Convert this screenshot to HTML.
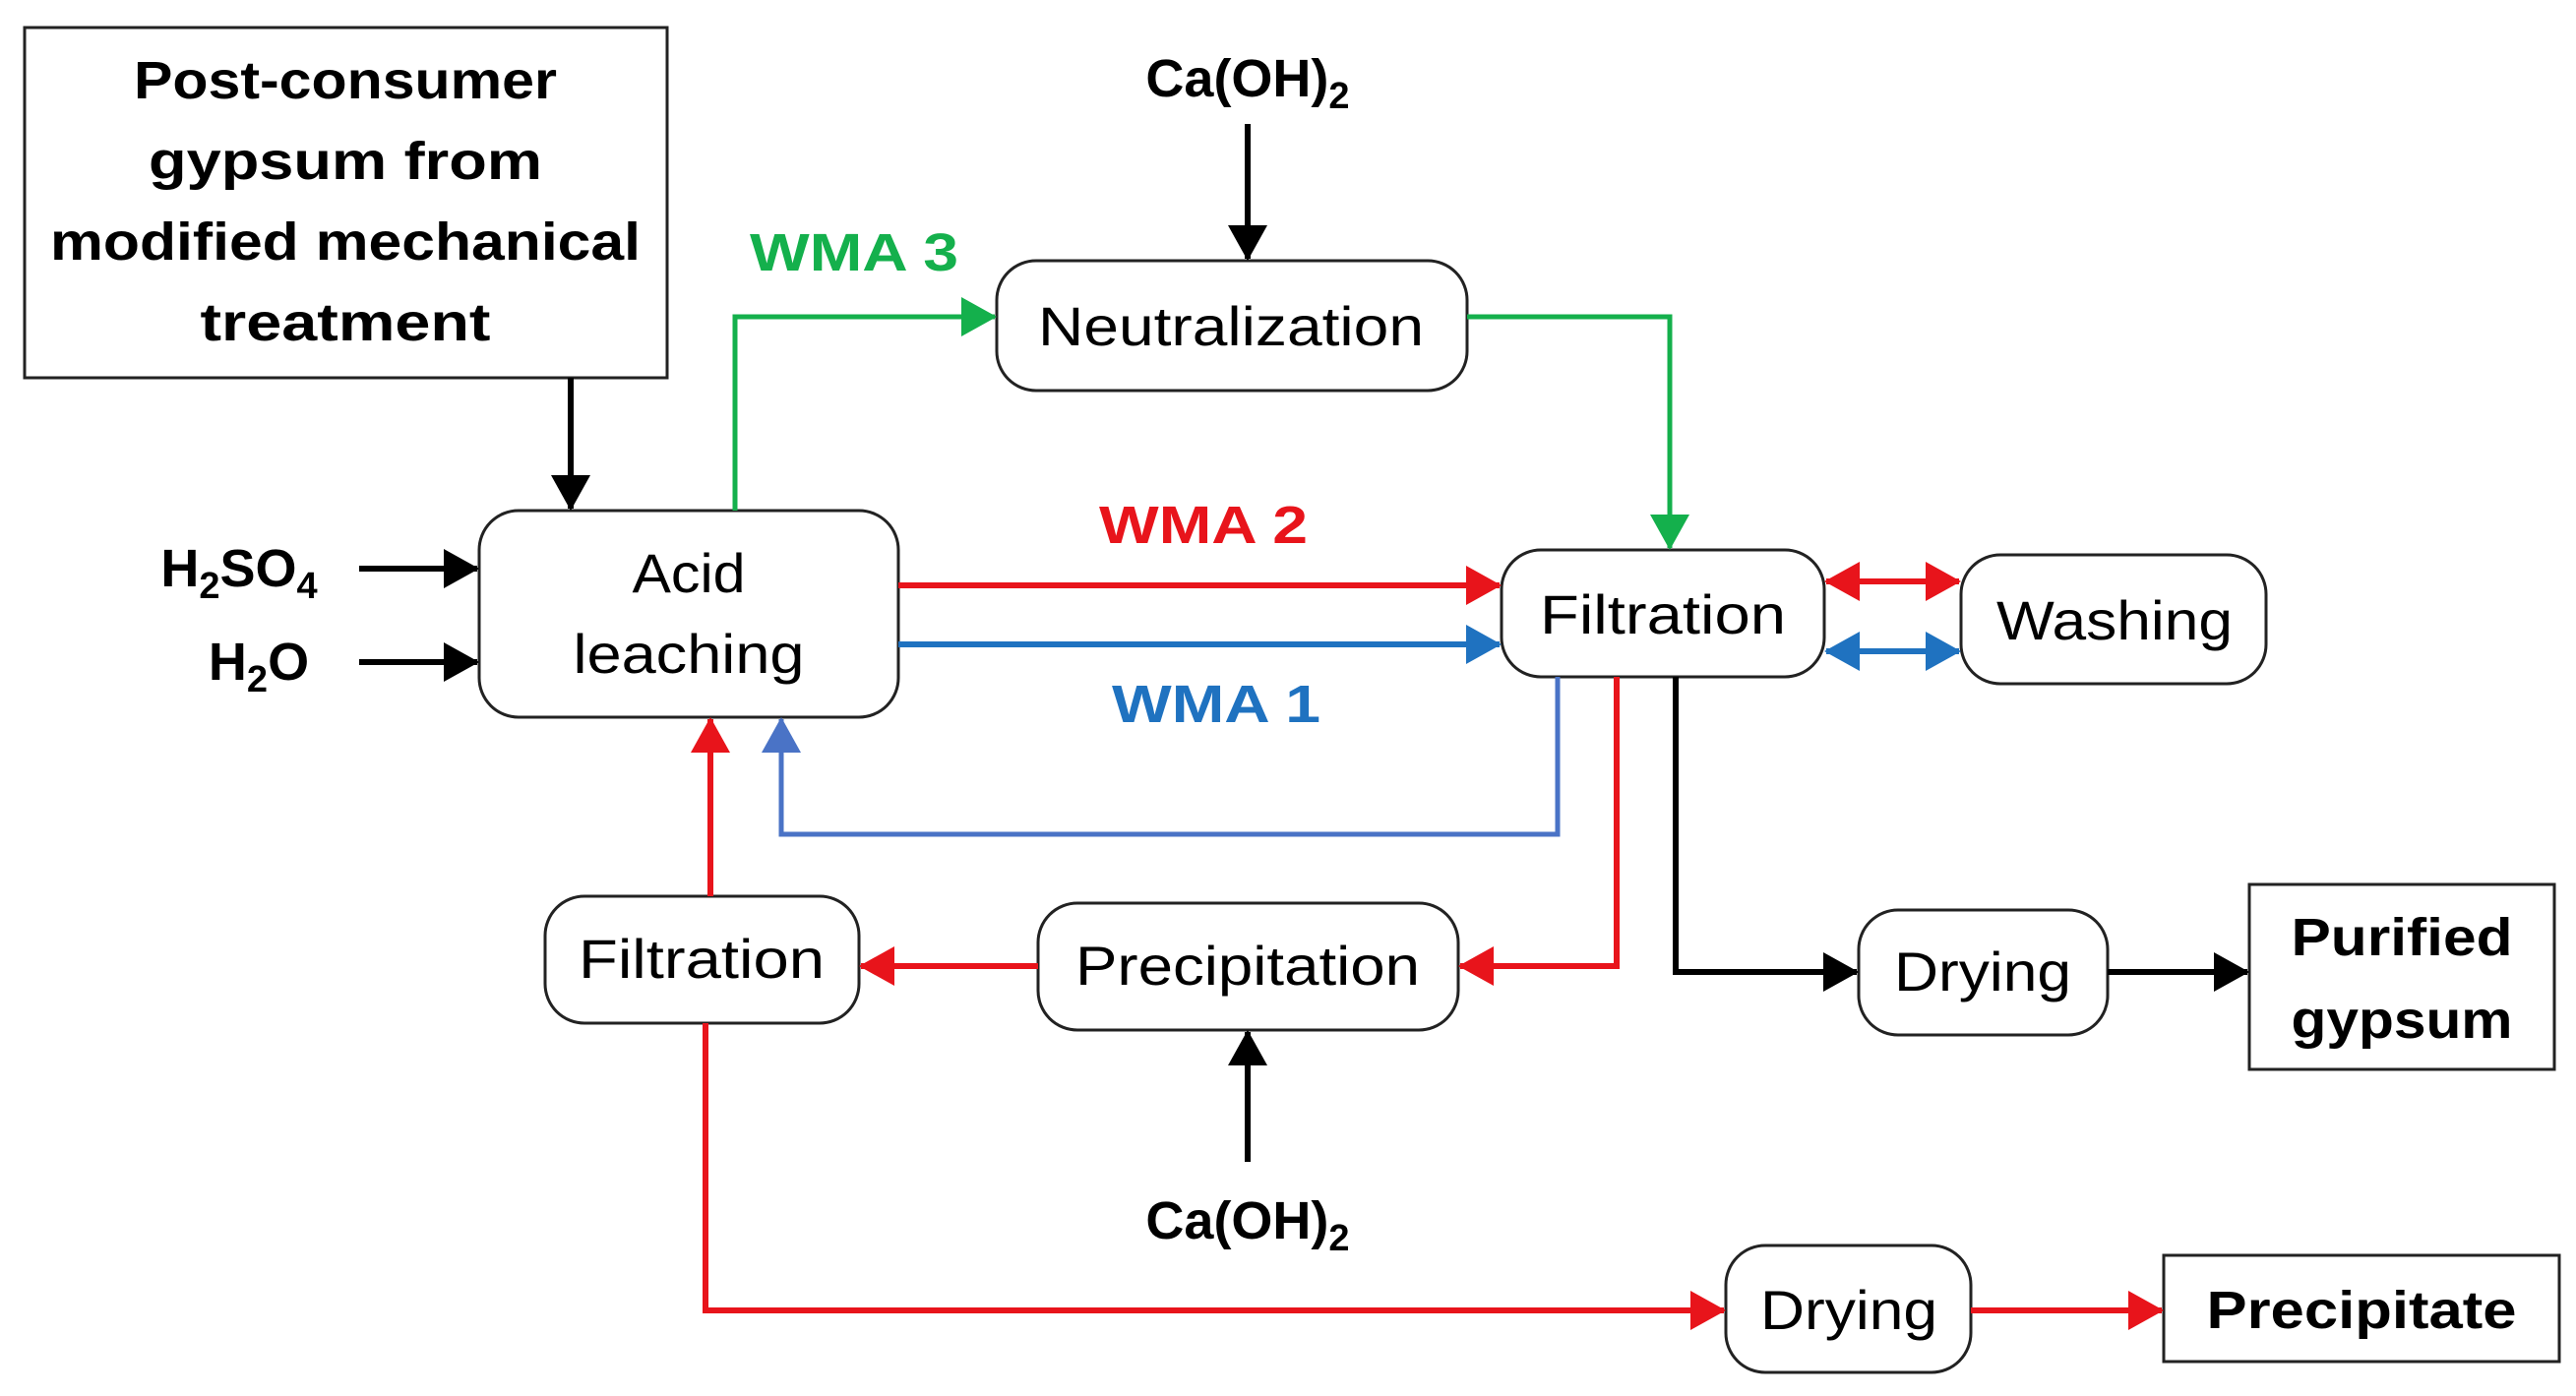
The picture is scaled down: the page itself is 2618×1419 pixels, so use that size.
<!DOCTYPE html>
<html><head><meta charset="utf-8"><style>html,body{margin:0;padding:0;background:#fff}svg{display:block}</style></head>
<body>
<svg width="2618" height="1419" viewBox="0 0 2618 1419" xmlns="http://www.w3.org/2000/svg" font-family="Liberation Sans, sans-serif">
<defs>
<marker id="k" markerUnits="userSpaceOnUse" markerWidth="36" markerHeight="40" refX="34" refY="20" orient="auto"><path d="M0,0 L36,20 L0,40 z" fill="#000"/></marker>
<marker id="r" markerUnits="userSpaceOnUse" markerWidth="36" markerHeight="40" refX="34" refY="20" orient="auto"><path d="M0,0 L36,20 L0,40 z" fill="#e8141b"/></marker>
<marker id="rs" markerUnits="userSpaceOnUse" markerWidth="36" markerHeight="40" refX="2" refY="20" orient="auto"><path d="M36,0 L0,20 L36,40 z" fill="#e8141b"/></marker>
<marker id="b" markerUnits="userSpaceOnUse" markerWidth="36" markerHeight="40" refX="34" refY="20" orient="auto"><path d="M0,0 L36,20 L0,40 z" fill="#1f72c0"/></marker>
<marker id="bs" markerUnits="userSpaceOnUse" markerWidth="36" markerHeight="40" refX="2" refY="20" orient="auto"><path d="M36,0 L0,20 L36,40 z" fill="#1f72c0"/></marker>
<marker id="b2" markerUnits="userSpaceOnUse" markerWidth="36" markerHeight="40" refX="34" refY="20" orient="auto"><path d="M0,0 L36,20 L0,40 z" fill="#4a73c6"/></marker>
<marker id="g" markerUnits="userSpaceOnUse" markerWidth="36" markerHeight="40" refX="34" refY="20" orient="auto"><path d="M0,0 L36,20 L0,40 z" fill="#14b04c"/></marker>
</defs>

<g fill="#fff" stroke="#222" stroke-width="3">
<rect x="25" y="28" width="653" height="356"/>
<rect x="487" y="519" width="426" height="210" rx="40"/>
<rect x="1013" y="265" width="478" height="132" rx="40"/>
<rect x="1526" y="559" width="328" height="129" rx="40"/>
<rect x="1993" y="564" width="310" height="131" rx="40"/>
<rect x="1889" y="925" width="253" height="127" rx="40"/>
<rect x="2286" y="899" width="310" height="188"/>
<rect x="1055" y="918" width="427" height="129" rx="40"/>
<rect x="554" y="911" width="319" height="129" rx="40"/>
<rect x="1754" y="1266" width="249" height="129" rx="40"/>
<rect x="2199" y="1276" width="402" height="108"/>
</g>

<g fill="none" stroke-width="6">
<path d="M580,384 V517" stroke="#000" marker-end="url(#k)"/>
<path d="M365,578 H485" stroke="#000" marker-end="url(#k)"/>
<path d="M365,673 H485" stroke="#000" marker-end="url(#k)"/>
<path d="M1268,126 V263" stroke="#000" marker-end="url(#k)"/>
<path d="M747,519 V322 H1011" stroke="#14b04c" stroke-width="5" marker-end="url(#g)"/>
<path d="M1491,322 H1697 V557" stroke="#14b04c" stroke-width="5" marker-end="url(#g)"/>
<path d="M913,595 H1524" stroke="#e8141b" marker-end="url(#r)"/>
<path d="M913,655 H1524" stroke="#1f72c0" marker-end="url(#b)"/>
<path d="M1856,591 H1991" stroke="#e8141b" marker-start="url(#rs)" marker-end="url(#r)"/>
<path d="M1856,662 H1991" stroke="#1f72c0" marker-start="url(#bs)" marker-end="url(#b)"/>
<path d="M1583,688 V848 H794 V731" stroke="#4a73c6" stroke-width="5" marker-end="url(#b2)"/>
<path d="M1643,688 V982 H1484" stroke="#e8141b" marker-end="url(#r)"/>
<path d="M1703,688 V988 H1887" stroke="#000" marker-end="url(#k)"/>
<path d="M2142,988 H2284" stroke="#000" marker-end="url(#k)"/>
<path d="M1055,982 H875" stroke="#e8141b" marker-end="url(#r)"/>
<path d="M722,911 V731" stroke="#e8141b" marker-end="url(#r)"/>
<path d="M1268,1181 V1049" stroke="#000" marker-end="url(#k)"/>
<path d="M717,1040 V1332 H1752" stroke="#e8141b" marker-end="url(#r)"/>
<path d="M2003,1332 H2197" stroke="#e8141b" marker-end="url(#r)"/>
</g>

<g font-size="54" font-weight="bold" text-anchor="middle" fill="#000">
<text x="351" y="100" textLength="430" lengthAdjust="spacingAndGlyphs">Post-consumer</text>
<text x="351" y="182" textLength="400" lengthAdjust="spacingAndGlyphs">gypsum from</text>
<text x="351" y="264" textLength="600" lengthAdjust="spacingAndGlyphs">modified mechanical</text>
<text x="351" y="346" textLength="295" lengthAdjust="spacingAndGlyphs">treatment</text>
<text x="2441" y="971" textLength="225" lengthAdjust="spacingAndGlyphs">Purified</text>
<text x="2441" y="1055" textLength="225" lengthAdjust="spacingAndGlyphs">gypsum</text>
<text x="2400" y="1350" textLength="315" lengthAdjust="spacingAndGlyphs">Precipitate</text>
<text x="1268" y="98">Ca(OH)<tspan font-size="38" dy="12">2</tspan></text>
<text x="1268" y="1259">Ca(OH)<tspan font-size="38" dy="12">2</tspan></text>
<text x="243" y="596" text-anchor="middle">H<tspan font-size="38" dy="12">2</tspan><tspan dy="-12">SO</tspan><tspan font-size="38" dy="12">4</tspan></text>
<text x="263" y="691" text-anchor="middle">H<tspan font-size="38" dy="12">2</tspan><tspan dy="-12">O</tspan></text>
<text x="868" y="275" fill="#14b04c" textLength="212" lengthAdjust="spacingAndGlyphs">WMA 3</text>
<text x="1223" y="552" fill="#e8141b" textLength="212" lengthAdjust="spacingAndGlyphs">WMA 2</text>
<text x="1236" y="734" fill="#1f72c0" textLength="212" lengthAdjust="spacingAndGlyphs">WMA 1</text>
</g>

<g font-size="56" text-anchor="middle" fill="#000">
<text x="700" y="602" textLength="115" lengthAdjust="spacingAndGlyphs">Acid</text>
<text x="700" y="684" textLength="235" lengthAdjust="spacingAndGlyphs">leaching</text>
<text x="1251" y="351" textLength="392" lengthAdjust="spacingAndGlyphs">Neutralization</text>
<text x="1690" y="644" textLength="250" lengthAdjust="spacingAndGlyphs">Filtration</text>
<text x="2149" y="650" textLength="240" lengthAdjust="spacingAndGlyphs">Washing</text>
<text x="2015" y="1007" textLength="180" lengthAdjust="spacingAndGlyphs">Drying</text>
<text x="1268" y="1001" textLength="350" lengthAdjust="spacingAndGlyphs">Precipitation</text>
<text x="713" y="994" textLength="250" lengthAdjust="spacingAndGlyphs">Filtration</text>
<text x="1879" y="1351" textLength="180" lengthAdjust="spacingAndGlyphs">Drying</text>
</g>
</svg>
</body></html>
